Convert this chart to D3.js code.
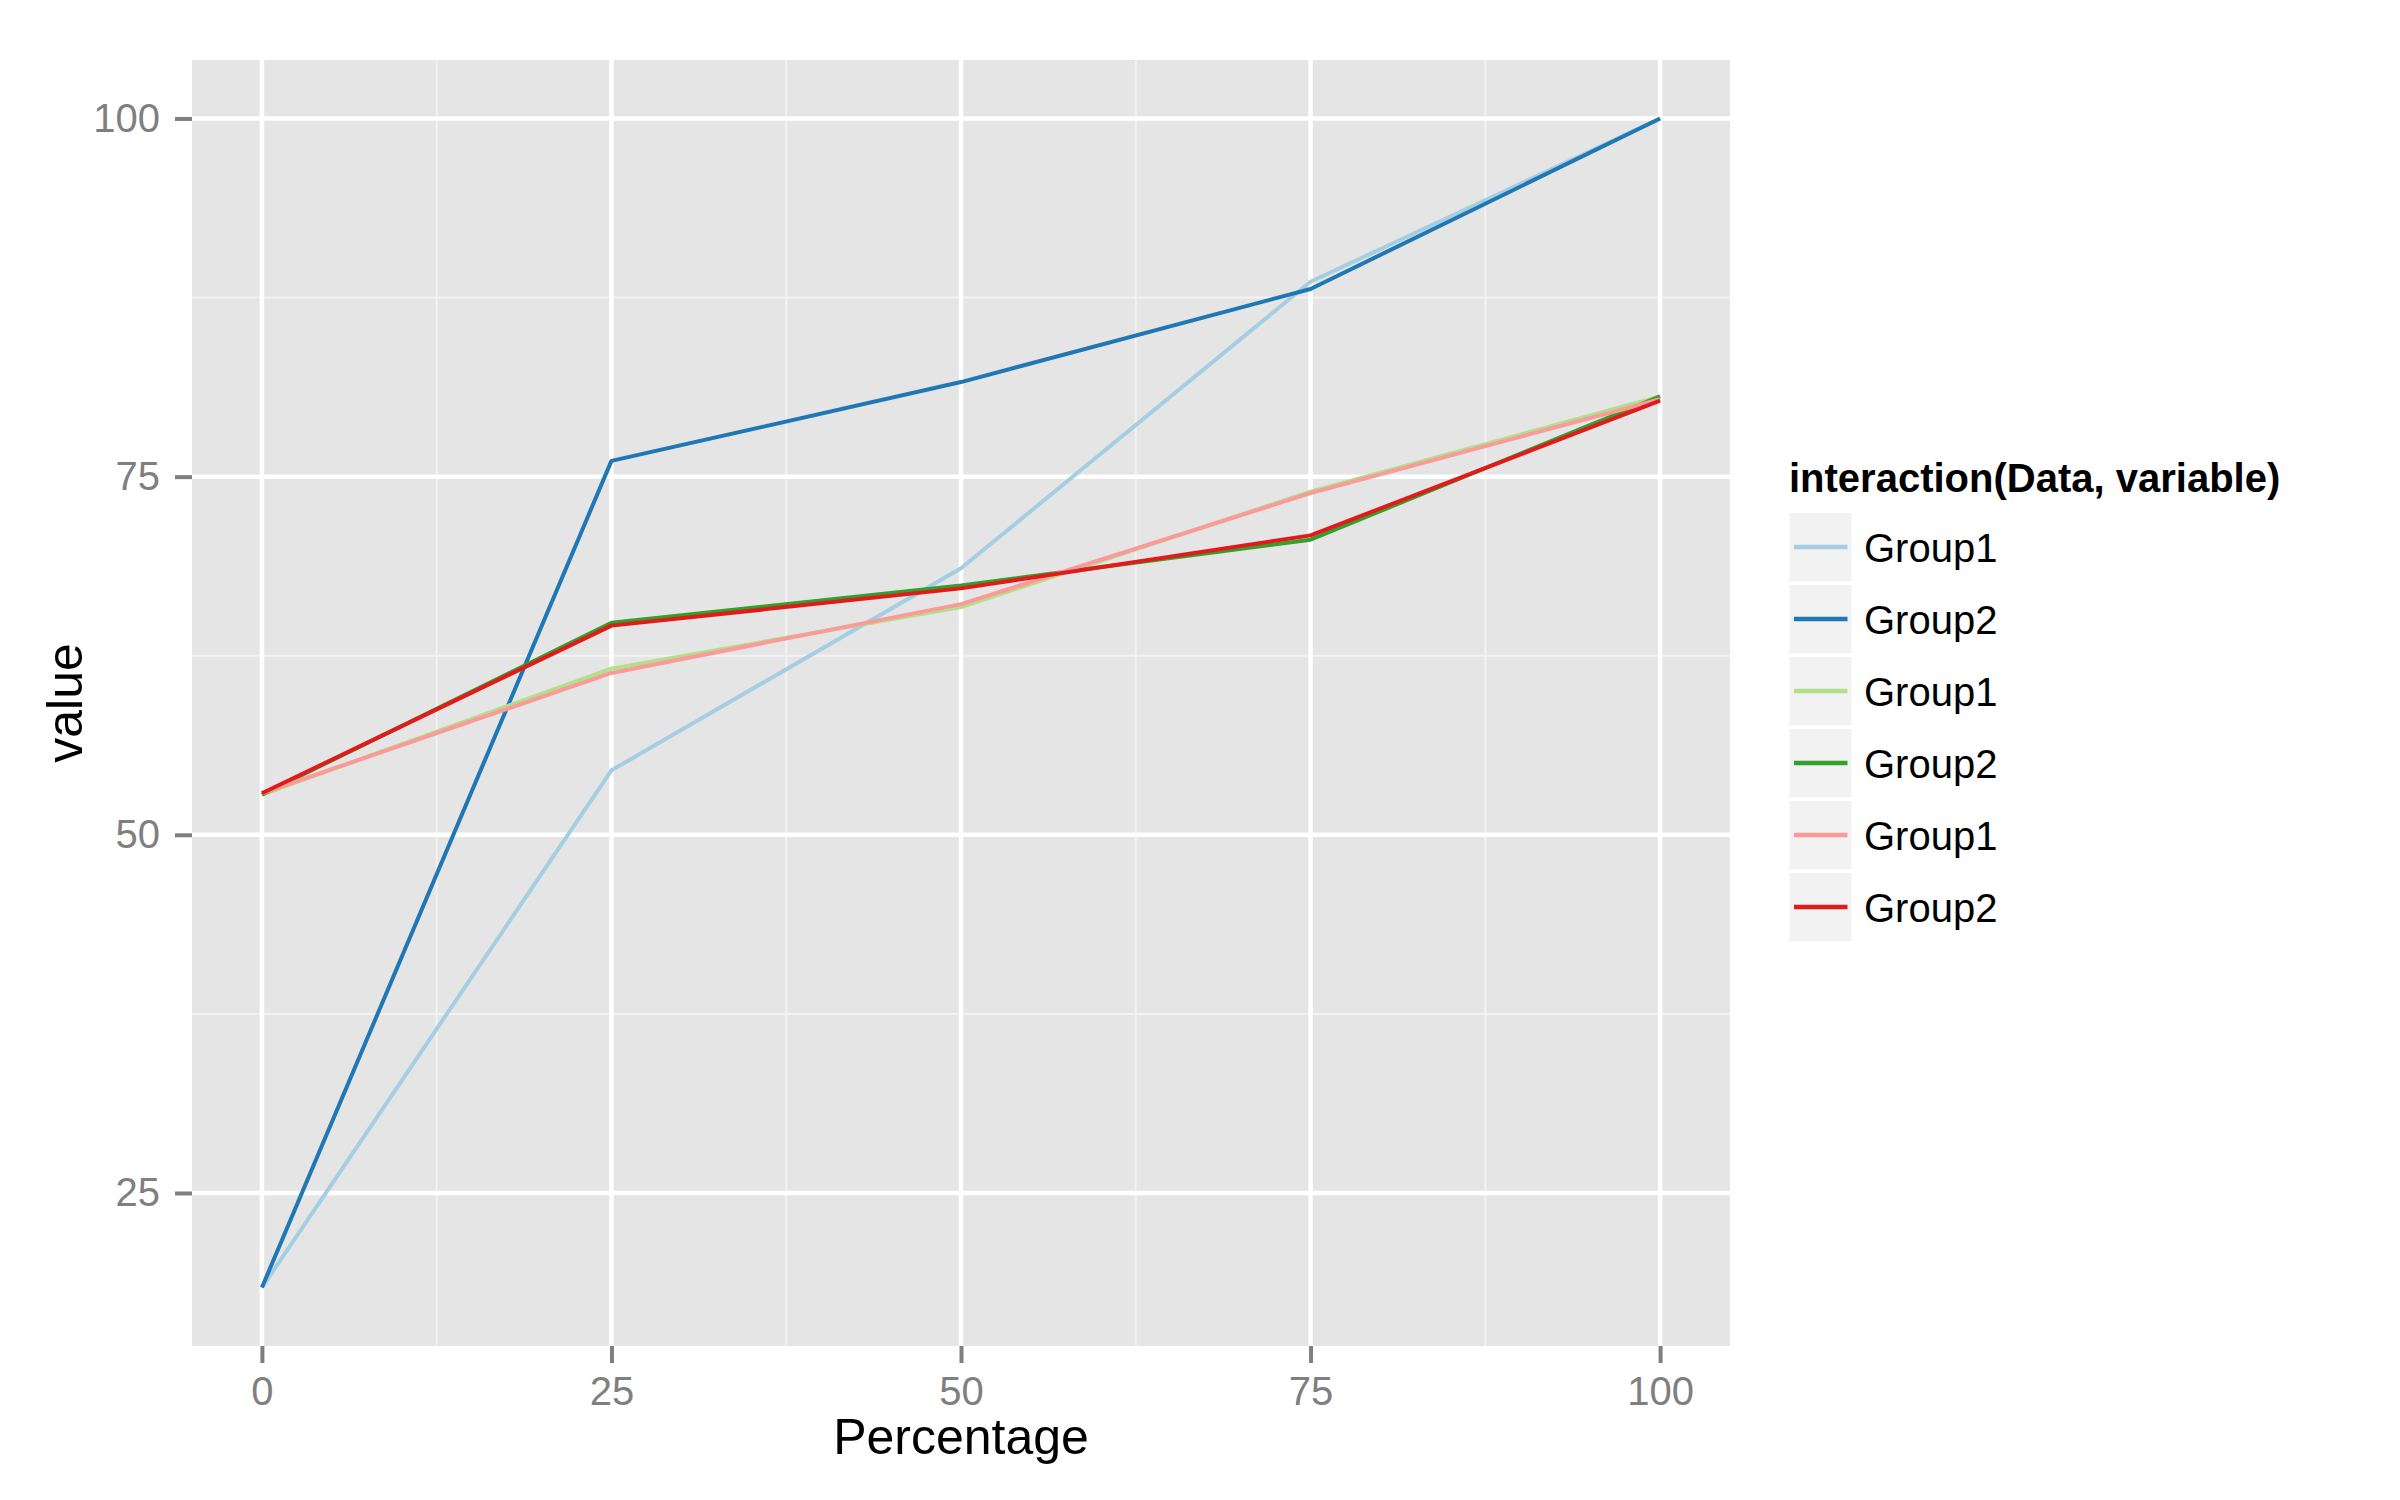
<!DOCTYPE html>
<html>
<head>
<meta charset="utf-8">
<script src="https://cdn.jsdelivr.net/npm/d3@7"></script>
<style>
  html, body { margin: 0; padding: 0; background: #ffffff; }
  svg { display: block; }
</style>
</head>
<body>
<svg id="chart" width="2400" height="1500"></svg>
<script>
// ---- data ----
const percentage = [0, 25, 50, 75, 100];
const seriesNames = ["Group1", "Group2", "Group1", "Group2", "Group1", "Group2"];
const seriesColors = ["#A6CEE3", "#1F78B4", "#B2DF8A", "#33A02C", "#FB9A99", "#E31A1C"];
const aGroup1 = [18.4, 54.5, 68.6, 88.6, 100];
const aGroup2 = [18.4, 76.1, 81.6, 88.1, 100];
const bGroup1 = [52.8, 61.6, 65.9, 73.95, 80.6];
const bGroup2 = [52.8, 64.8, 67.4, 70.6, 80.6];
const cGroup1 = [52.9, 61.3, 66.1, 73.85, 80.4];
const cGroup2 = [52.9, 64.6, 67.2, 70.9, 80.3];
const xTicks = [0, 25, 50, 75, 100];
const xMinor = [12.5, 37.5, 62.5, 87.5];
const yTicks = [25, 50, 75, 100];
const yMinor = [37.5, 62.5, 87.5];
const legendTitle = "interaction(Data, variable)";
const xTitle = "Percentage";
const yTitle = "value";

const seriesValues = [aGroup1, aGroup2, bGroup1, bGroup2, cGroup1, cGroup2];

// ---- layout ----
const panel = { left: 192, right: 1730, top: 60, bottom: 1346 };
const font = "'Liberation Sans', Arial, Helvetica, sans-serif";

const svg = d3.select("#chart");

// ggplot-like 5% expansion
const xExt = d3.extent(percentage);
const xPad = (xExt[1] - xExt[0]) * 0.05;
const x = d3.scaleLinear().domain([xExt[0] - xPad, xExt[1] + xPad]).range([panel.left, panel.right]);
const allY = seriesValues.flat();
const yExt = d3.extent(allY);
const yPad = (yExt[1] - yExt[0]) * 0.05;
const y = d3.scaleLinear().domain([yExt[0] - yPad, yExt[1] + yPad]).range([panel.bottom, panel.top]);

// panel background
svg.append("rect")
  .attr("x", panel.left).attr("y", panel.top)
  .attr("width", panel.right - panel.left).attr("height", panel.bottom - panel.top)
  .attr("fill", "#E5E5E5");

const grid = svg.append("g");
// minor grid
grid.selectAll(".xminor").data(xMinor).enter().append("line")
  .attr("x1", d => x(d)).attr("x2", d => x(d))
  .attr("y1", panel.top).attr("y2", panel.bottom)
  .attr("stroke", "#F2F2F2").attr("stroke-width", 2);
grid.selectAll(".yminor").data(yMinor).enter().append("line")
  .attr("y1", d => y(d)).attr("y2", d => y(d))
  .attr("x1", panel.left).attr("x2", panel.right)
  .attr("stroke", "#F2F2F2").attr("stroke-width", 2);
// major grid
grid.selectAll(".xmajor").data(xTicks).enter().append("line")
  .attr("x1", d => x(d)).attr("x2", d => x(d))
  .attr("y1", panel.top).attr("y2", panel.bottom)
  .attr("stroke", "#FFFFFF").attr("stroke-width", 4.5);
grid.selectAll(".ymajor").data(yTicks).enter().append("line")
  .attr("y1", d => y(d)).attr("y2", d => y(d))
  .attr("x1", panel.left).attr("x2", panel.right)
  .attr("stroke", "#FFFFFF").attr("stroke-width", 4.5);

// lines
const line = d3.line().x((d, i) => x(percentage[i])).y(d => y(d));
svg.append("g").selectAll("path").data(seriesValues).enter().append("path")
  .attr("d", d => line(d))
  .attr("fill", "none")
  .attr("stroke", (d, i) => seriesColors[i])
  .attr("stroke-width", 4)
  .attr("stroke-linejoin", "round");

// axes
const xAxis = d3.axisBottom(x).tickValues(xTicks).tickSize(17).tickPadding(14).tickFormat(d3.format("d"));
const gx = svg.append("g").attr("transform", `translate(0,${panel.bottom})`).call(xAxis);
gx.select(".domain").remove();
gx.selectAll(".tick line").attr("stroke", "#7F7F7F").attr("stroke-width", 4);
gx.selectAll(".tick text").attr("fill", "#7F7F7F").attr("font-family", font).attr("font-size", 40);

const yAxis = d3.axisLeft(y).tickValues(yTicks).tickSize(17).tickPadding(15).tickFormat(d3.format("d"));
const gy = svg.append("g").attr("transform", `translate(${panel.left},0)`).call(yAxis);
gy.select(".domain").remove();
gy.selectAll(".tick line").attr("stroke", "#7F7F7F").attr("stroke-width", 4);
gy.selectAll(".tick text").attr("fill", "#7F7F7F").attr("font-family", font).attr("font-size", 40);

// axis titles
svg.append("text")
  .attr("x", (panel.left + panel.right) / 2).attr("y", 1454)
  .attr("text-anchor", "middle").attr("font-family", font).attr("font-size", 50)
  .attr("fill", "#000").text(xTitle);
svg.append("text")
  .attr("transform", `translate(82,${(panel.top + panel.bottom) / 2}) rotate(-90)`)
  .attr("text-anchor", "middle").attr("font-family", font).attr("font-size", 50)
  .attr("fill", "#000").text(yTitle);

// legend
const lg = svg.append("g");
lg.append("text")
  .attr("x", 1789).attr("y", 492)
  .attr("font-family", font).attr("font-size", 40).attr("font-weight", "bold")
  .attr("fill", "#000").text(legendTitle);
const keyTop = 511, keyStep = 72, keyW = 66, keyH = 72;
const items = lg.selectAll(".item").data(seriesNames).enter().append("g")
  .attr("transform", (d, i) => `translate(1787.5,${keyTop + i * keyStep})`);
items.append("rect")
  .attr("x", 0).attr("y", 0).attr("width", keyW).attr("height", keyH)
  .attr("fill", "#F2F2F2").attr("stroke", "#FFFFFF").attr("stroke-width", 4);
items.append("line")
  .attr("x1", 6.5).attr("x2", 60).attr("y1", keyH / 2).attr("y2", keyH / 2)
  .attr("stroke", (d, i) => seriesColors[i]).attr("stroke-width", 4.3);
items.append("text")
  .attr("x", 76.5).attr("y", keyH / 2 + 14.5)
  .attr("font-family", font).attr("font-size", 40).attr("fill", "#000")
  .text(d => d);
</script>
</body>
</html>
